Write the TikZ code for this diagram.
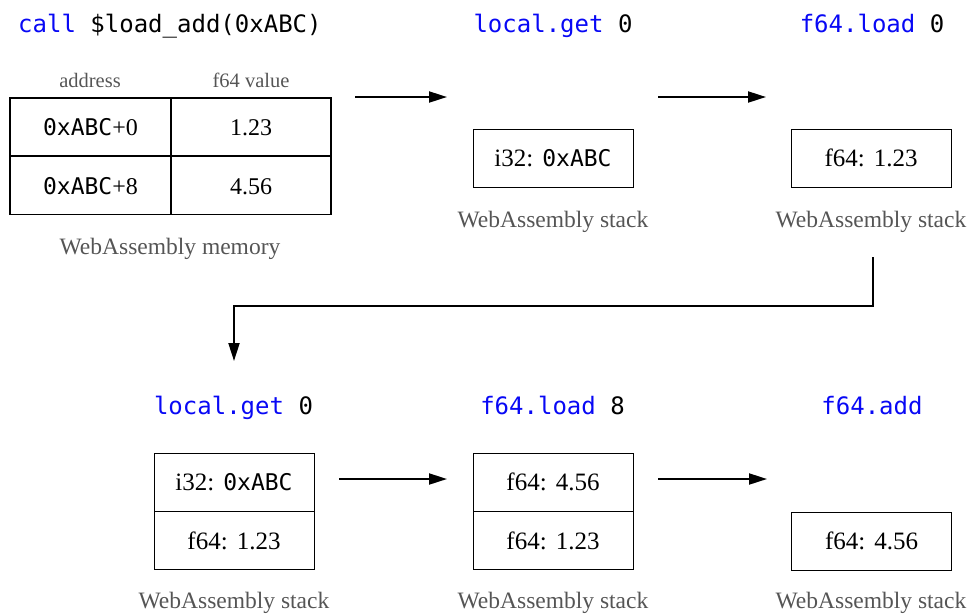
\documentclass[tikz,border=0pt]{standalone}
\usepackage{fontspec}
\setmainfont{Liberation Serif}
\setmonofont{DejaVu Sans Mono}
\usetikzlibrary{arrows.meta}
\definecolor{kw}{RGB}{8,8,245}
\definecolor{capc}{RGB}{85,85,85}
\newcommand{\cmono}[1]{{\fontsize{23}{27}\selectfont\ttfamily #1}}
\newcommand{\ty}[1]{#1:\hspace{9pt}}
\begin{document}
\begin{tikzpicture}[x=1pt,y=-1pt,
  lbl/.style={anchor=base,inner sep=0,font=\fontsize{24}{28}\selectfont\ttfamily},
  capt/.style={anchor=base,inner sep=0,text=capc,font=\fontsize{23.5}{26}\selectfont},
  hdr/.style={anchor=base,inner sep=0,text=capc,font=\fontsize{20.5}{24}\selectfont},
  cell/.style={draw,line width=0.9pt,minimum width=160pt,minimum height=58pt,inner sep=0,text height=21pt,text depth=4pt,font=\fontsize{25}{29}\selectfont},
  mcell/.style={cell,line width=1.3pt,minimum width=161pt,font=\fontsize{24}{28}\selectfont},
  flow/.style={line width=2pt,-{Triangle[length=18pt,width=11pt]}}]
\useasboundingbox (0,0) rectangle (971,614);
% title
\node[lbl,anchor=base west] (title) at (18,32) {\textcolor{kw}{call} \$load\_add(0xABC)};
% memory table
\node[hdr] (haddr) at (90,87) {address};
\node[hdr] (hval) at (251,87) {f64 value};
\node[mcell] (m1a) at (90.5,127) {\cmono{0xABC}+0};
\node[mcell,minimum width=160pt] (m1b) at (251,127) {1.23};
\node[mcell] (m2a) at (90.5,185.5) {\cmono{0xABC}+8};
\node[mcell,minimum width=160pt] (m2b) at (251,185.5) {4.56};
\node[capt] (cmem) at (170,254) {WebAssembly memory};
% row 1
\node[lbl] (i1) at (553,32) {\textcolor{kw}{local.get} 0};
\node[cell] (s1) at (553,158) {\ty{i32}\cmono{0xABC}};
\node[capt] (c1) at (553,227) {WebAssembly stack};
\node[lbl] (i2) at (872,32) {\textcolor{kw}{f64.load} 0};
\node[cell] (s2) at (871,158) {\ty{f64}1.23};
\node[capt] (c2) at (871,227) {WebAssembly stack};
% row 2
\node[lbl] (i3) at (233.5,414) {\textcolor{kw}{local.get} 0};
\node[cell] (t1a) at (234,482) {\ty{i32}\cmono{0xABC}};
\node[cell] (t1b) at (234,540.5) {\ty{f64}1.23};
\node[capt] (c3) at (234,608) {WebAssembly stack};
\node[lbl] (i4) at (552.5,414) {\textcolor{kw}{f64.load} 8};
\node[cell] (t2a) at (553,482) {\ty{f64}4.56};
\node[cell] (t2b) at (553,540.5) {\ty{f64}1.23};
\node[capt] (c4) at (553,608) {WebAssembly stack};
\node[lbl] (i5) at (872,414) {\textcolor{kw}{f64.add}};
\node[cell] (t3) at (871.5,541) {\ty{f64}4.56};
\node[capt] (c5) at (871,608) {WebAssembly stack};
% arrows
\coordinate (a1s) at (355,97); \coordinate (a1e) at (447,97);
\coordinate (a2s) at (658,97); \coordinate (a2e) at (766,97);
\coordinate (b1s) at (339,479); \coordinate (b1e) at (447,479);
\coordinate (b2s) at (658,479); \coordinate (b2e) at (767,479);
\coordinate (e1) at (873,257); \coordinate (e2) at (234,361);
\draw[flow] (a1s) -- (a1e);
\draw[flow] (a2s) -- (a2e);
\draw[flow] (b1s) -- (b1e);
\draw[flow] (b2s) -- (b2e);
\draw[flow] (e1) -- ++(0,49) -| (e2);
\end{tikzpicture}
\end{document}
